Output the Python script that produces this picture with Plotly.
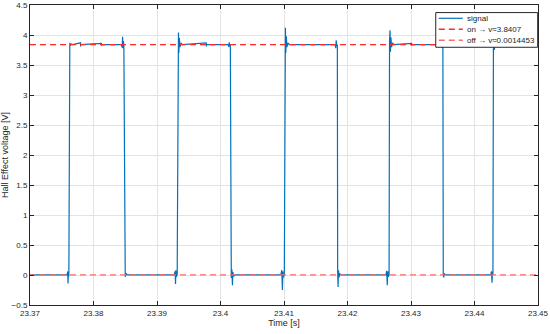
import plotly.graph_objects as go

# values
on_level = 3.8407
off_level = 0.0014453

time_s = [
    23.37000, 23.37300, 23.37450,
    # rise 1
    23.37585, 23.37594, 23.37599, 23.37604, 23.37612, 23.37627, 23.37635, 23.37650, 23.37670,
    23.37795, 23.37797, 23.37799, 23.38125, 23.38127, 23.38129,
    # fall 1
    23.38440, 23.38452, 23.38458, 23.38464, 23.38470, 23.38478, 23.38492, 23.38500, 23.38515, 23.38540,
    # rise 2
    23.39270, 23.39285, 23.39292, 23.39297, 23.39305, 23.39318, 23.39330, 23.39338, 23.39344,
    23.39352, 23.39362, 23.39380, 23.39400,
    23.39775, 23.39777, 23.39779,
    # fall 2
    23.40120, 23.40132, 23.40138, 23.40145, 23.40155, 23.40160, 23.40170, 23.40180, 23.40188,
    23.40195, 23.40205, 23.40230,
    # rise 3
    23.40950, 23.40965, 23.40975, 23.40982, 23.40992, 23.41005, 23.41015, 23.41022, 23.41028,
    23.41036, 23.41046, 23.41062, 23.41085,
    # fall 3
    23.41805, 23.41815, 23.41822, 23.41830, 23.41840, 23.41845, 23.41852, 23.41858, 23.41866,
    23.41880, 23.41900,
    # rise 4
    23.42605, 23.42618, 23.42626, 23.42633, 23.42643, 23.42655, 23.42662, 23.42670, 23.42676,
    23.42684, 23.42694, 23.42710, 23.42730,
    23.43010, 23.43012, 23.43014,
    # fall 4
    23.43480, 23.43490, 23.43496, 23.43502, 23.43508, 23.43515, 23.43528, 23.43550,
    # rise 5
    23.44255, 23.44268, 23.44276, 23.44283, 23.44290, 23.44298, 23.44305, 23.44312, 23.44322,
    23.44340, 23.44360, 23.45000,
]

voltage_v = [
    0.0014, 0.0014, 0.0014,
    # rise 1
    0.0014, 0.06, -0.14, 0.03, -0.02, 3.87, 3.82, 3.85, 3.8407,
    3.87, 3.81, 3.8407, 3.86, 3.82, 3.8407,
    # fall 1
    3.8407, 3.79, 3.97, 3.78, 3.90, 3.83, 0.0, -0.03, 0.02, 0.0014,
    # rise 2
    0.0014, 0.06, -0.15, 0.08, -0.03, 0.01, 3.90, 4.04, 3.70,
    3.95, 3.80, 3.86, 3.8407,
    3.87, 3.81, 3.8407,
    # fall 2
    3.8407, 3.80, 3.88, 3.82, 3.84, 0.05, -0.05, 0.09, -0.17,
    0.05, -0.02, 0.0014,
    # rise 3
    0.0014, 0.08, -0.25, 0.06, -0.04, 0.01, 3.90, 4.12, 3.70,
    3.98, 3.80, 3.87, 3.8407,
    # fall 3
    3.8407, 3.78, 3.91, 3.82, 3.84, 0.05, -0.20, 0.08, -0.04,
    0.02, 0.0014,
    # rise 4
    0.0014, 0.07, -0.17, 0.06, -0.03, 0.01, 3.90, 4.08, 3.72,
    3.96, 3.80, 3.87, 3.8407,
    3.86, 3.82, 3.8407,
    # fall 4
    3.8407, 3.79, 3.90, 3.83, 0.0, -0.04, 0.02, 0.0014,
    # rise 5
    0.0014, 0.06, -0.13, 0.05, 0.0, 3.85, 3.95, 3.75, 3.90,
    3.83, 3.8407, 3.8407,
]

x_range = [23.37, 23.45]
x_ticks = [23.37, 23.38, 23.39, 23.40, 23.41, 23.42, 23.43, 23.44, 23.45]
x_tick_text = ["23.37", "23.38", "23.39", "23.4", "23.41", "23.42", "23.43", "23.44", "23.45"]
y_range = [-0.5, 4.5]
y_ticks = [-0.5, 0, 0.5, 1, 1.5, 2, 2.5, 3, 3.5, 4, 4.5]

legend_names = ["signal", "on \u2192 v\u2248" + str(on_level), "off \u2192 v\u2248" + str(off_level)]
signal_color = "#0072BD"
on_color = "#ff2a2a"
off_color = "#ff6a6a"

ink = "#262626"
font_family = "Liberation Sans, Arial, sans-serif"

fig = go.Figure()

fig.add_trace(go.Scatter(
    x=time_s, y=voltage_v, mode="lines", name=legend_names[0],
    line=dict(color=signal_color, width=1.2),
))
fig.add_trace(go.Scatter(
    x=x_range, y=[on_level, on_level], mode="lines", name=legend_names[1],
    line=dict(color=on_color, width=1.3, dash="6px,4px"),
))
fig.add_trace(go.Scatter(
    x=x_range, y=[off_level, off_level], mode="lines", name=legend_names[2],
    line=dict(color=off_color, width=1.3, dash="6px,4px"),
))

# plotly's legend rows are too tall for this, so the legend box is drawn by hand
fig.add_shape(type="rect", xref="x domain", yref="y domain",
              x0=0.7987, x1=0.9994, y0=0.8591, y1=0.9747,
              line=dict(color=ink, width=1), fillcolor="white", layer="above")
row_y = [0.9557, 0.9191, 0.8825]
row_style = [
    dict(color=signal_color, width=1.2),
    dict(color=on_color, width=1.3, dash="6px,4px"),
    dict(color=off_color, width=1.3, dash="6px,4px"),
]
for name, ry, st in zip(legend_names, row_y, row_style):
    fig.add_shape(type="line", xref="x domain", yref="y domain",
                  x0=0.8047, x1=0.8519, y0=ry, y1=ry, line=st, layer="above")
    fig.add_annotation(xref="x domain", yref="y domain", x=0.8568, y=ry,
                       text=name, showarrow=False, xanchor="left", yanchor="middle",
                       font=dict(size=8, color=ink, family=font_family))

axis_common = dict(
    showline=True, linecolor=ink, linewidth=1, mirror="ticks",
    ticks="inside", ticklen=4, tickcolor=ink, tickwidth=0.8,
    showgrid=True, gridcolor="#e3e3e3", gridwidth=1,
    zeroline=False, automargin=False,
    tickfont=dict(size=8, color=ink, family=font_family),
)

fig.update_layout(
    width=550, height=334,
    margin=dict(l=30, r=12, t=5, b=29),
    paper_bgcolor="white", plot_bgcolor="white",
    font=dict(family=font_family, color=ink),
    xaxis=dict(
        range=x_range, tickvals=x_ticks, ticktext=x_tick_text,
        title=dict(text="Time [s]", font=dict(size=9, color=ink), standoff=2),
        **axis_common,
    ),
    yaxis=dict(
        range=y_range, tickvals=y_ticks,
        title=dict(text="Hall Effect voltage [V]", font=dict(size=9, color=ink), standoff=2),
        **axis_common,
    ),
    showlegend=False,
)

# the page's default body margin would push the figure out of the window
fig.write_html("out.html", config={"displayModeBar": False},
               post_script="document.body.style.margin='0';")
